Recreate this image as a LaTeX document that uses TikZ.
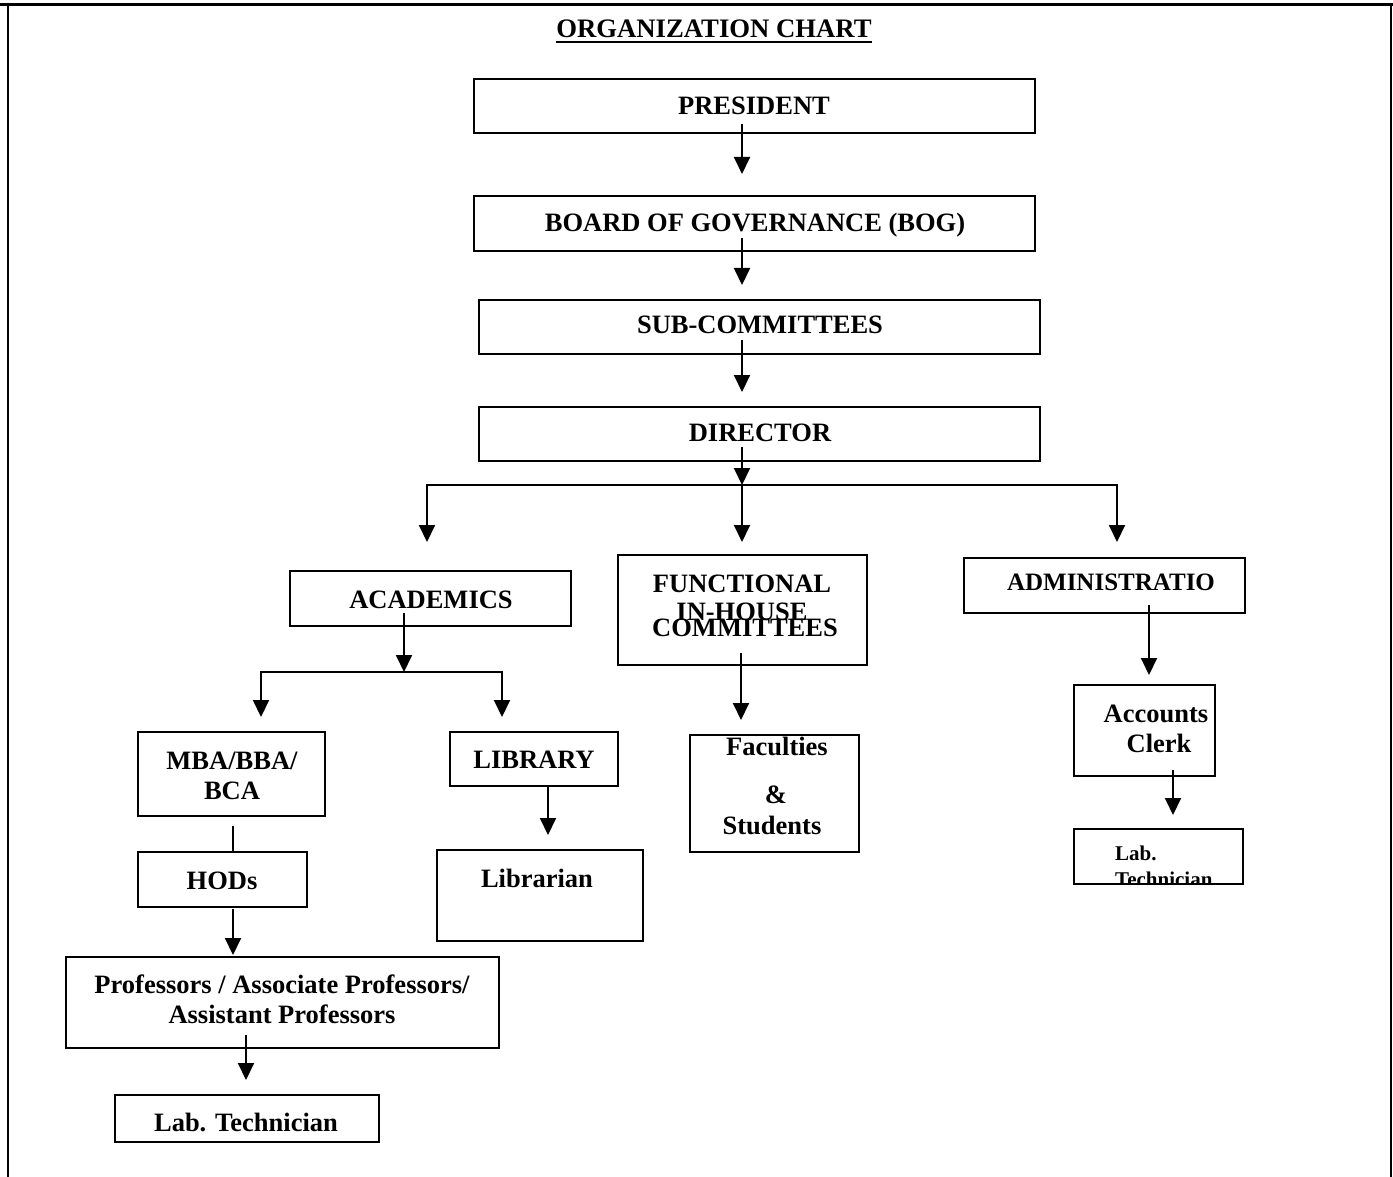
\documentclass[tikz,border=0pt]{standalone}
\usepackage{fontspec}
\setmainfont{Liberation Serif}
\usetikzlibrary{arrows.meta,calc}
\begin{document}
\begin{tikzpicture}[x=1pt,y=-1pt,
  box/.style={draw, line width=1.8pt, inner sep=0pt, outer sep=0pt},
  lbl/.style={font=\fontsize{26.5}{30}\selectfont\bfseries, inner sep=0pt, anchor=base},
  arr/.style={line width=2pt, -{Triangle[width=16pt,length=17pt]}},
  ln/.style={line width=2pt}]
\useasboundingbox (0,0) rectangle (1393,1177);
% frame
\draw[line width=3pt] (0,4.5) -- (1393,4.5);
\draw[line width=2pt] (8,4) -- (8,1177);
\draw[line width=2pt] (1391,4) -- (1391,1177);
% title
\node[lbl, font=\fontsize{26.7}{30}\selectfont\bfseries] (title) at (714,38) {ORGANIZATION CHART};
\draw[line width=2pt] ($(title.base west)+(0,4)$) -- ($(title.base east)+(0,4)$);
% boxes
\node[box, minimum width=561pt, minimum height=54pt] (pres) at (754.5,106) {};
\node[box, minimum width=561pt, minimum height=55pt] (bog) at (754.5,223.5) {};
\node[box, minimum width=561pt, minimum height=54pt] (sub) at (759.5,327) {};
\node[box, minimum width=561pt, minimum height=54pt] (dir) at (759.5,434) {};
\node[box, minimum width=281pt, minimum height=55pt] (acad) at (430.5,598.5) {};
\node[box, minimum width=249pt, minimum height=110pt] (func) at (742.5,610) {};
\node[box, minimum width=281pt, minimum height=55pt] (admin) at (1104.5,585.5) {};
\node[box, minimum width=187pt, minimum height=84pt] (mba) at (231.5,774) {};
\node[box, minimum width=168pt, minimum height=54pt] (lib) at (534,759) {};
\node[box, minimum width=169pt, minimum height=117pt] (fac) at (774.5,793.5) {};
\node[box, minimum width=141pt, minimum height=91pt] (acc) at (1144.5,730.5) {};
\node[box, minimum width=169pt, minimum height=55pt] (hods) at (222.5,879.5) {};
\node[box, minimum width=206pt, minimum height=91pt] (librarian) at (540,895.5) {};
\node[box, minimum width=169pt, minimum height=55pt] (labr) at (1158.5,856.5) {};
\node[box, minimum width=433pt, minimum height=91pt] (prof) at (282.5,1002.5) {};
\node[box, minimum width=264pt, minimum height=47pt] (labl) at (247,1118.5) {};
% texts
\node[lbl] (pres-t) at (754,115) {PRESIDENT};
\node[lbl] (bog-t) at (755,232) {BOARD OF GOVERNANCE (BOG)};
\node[lbl] (sub-t) at (760,333) {SUB-COMMITTEES};
\node[lbl] (dir-t) at (760,441) {DIRECTOR};
\node[lbl] (acad-t) at (431,608) {ACADEMICS};
\node[lbl] (func-t1) at (742,592) {FUNCTIONAL};
\node[lbl] (func-t2) at (742,620) {IN-HOUSE};
\node[lbl] (func-t3) at (745,636) {COMMITTEES};
\node[lbl, font=\fontsize{25}{30}\selectfont\bfseries] (admin-t) at (1111,590) {ADMINISTRATIO};
\node[lbl] (mba-t1) at (232,769) {MBA/BBA/};
\node[lbl] (mba-t2) at (232,799) {BCA};
\node[lbl] (lib-t) at (534,768) {LIBRARY};
\node[lbl] (fac-t1) at (777,755) {Faculties};
\node[lbl] (fac-t2) at (776,803) {\&};
\node[lbl] (fac-t3) at (772,834) {Students};
\node[lbl] (acc-t1) at (1156,722) {Accounts};
\node[lbl] (acc-t2) at (1159,752) {Clerk};
\node[lbl] (hods-t) at (222,889) {HODs};
\node[lbl] (librarian-t) at (537,887) {Librarian};
\begin{scope}
\clip (labr.north west) rectangle (labr.south east);
\node[lbl, anchor=base west, font=\fontsize{21}{25}\selectfont\bfseries] (labr-t1) at (1115,860) {Lab.};
\node[lbl, anchor=base west, font=\fontsize{21}{25}\selectfont\bfseries] (labr-t2) at (1115,886) {Technician};
\end{scope}
\node[lbl] (prof-t1) at (282,993) {Professors / Associate Professors/};
\node[lbl] (prof-t2) at (282,1023) {Assistant Professors};
\node[lbl] (labl-t) at (246,1131) {Lab. Technician};
% connectors
\draw[arr] ($(pres.south)+(-12.5,-9)$) -- ($(bog.north)+(-12.5,-22)$);
\draw[arr] ($(bog.south)+(-12.5,-13)$) -- ($(sub.north)+(-17.5,-15)$);
\draw[arr] ($(sub.south)+(-17.5,-14)$) -- ($(dir.north)+(-17.5,-15)$);
\coordinate (busM) at (742,485);
\draw[arr] ($(dir.south)+(-17.5,-14)$) -- (busM);
\draw[arr] (busM) -| ($(acad.north)+(-3.5,-29)$);
\draw[arr] (busM) -- ($(func.north)+(-0.5,-13)$);
\draw[arr] (busM) -| ($(admin.north)+(12.5,-16)$);
\coordinate (bus2M) at (404,672);
\draw[arr] ($(acad.south)+(-26.5,-13)$) -- (bus2M);
\draw[arr] (bus2M) -| ($(mba.north)+(29.5,-15)$);
\draw[arr] (bus2M) -| ($(lib.north)+(-32,-15)$);
\draw[ln] ($(mba.south)+(1.5,10)$) -- ($(hods.north)+(10.5,0)$);
\draw[arr] ($(hods.south)+(10.5,2)$) -- ($(prof.north)+(-49.5,-2)$);
\draw[arr] ($(prof.south)+(-36.5,-13)$) -- ($(labl.north)+(-1,-15)$);
\draw[arr] ($(lib.south)+(14,1)$) -- ($(librarian.north)+(8,-15)$);
\draw[arr] ($(func.south)+(-1.5,-12)$) -- ($(fac.north)+(-33.5,-15)$);
\draw[arr] ($(admin.south)+(44.5,-8)$) -- ($(acc.north)+(4.5,-10)$);
\draw[arr] ($(acc.south)+(28.5,-6)$) -- ($(labr.north)+(14.5,-14)$);
\end{tikzpicture}
\end{document}
